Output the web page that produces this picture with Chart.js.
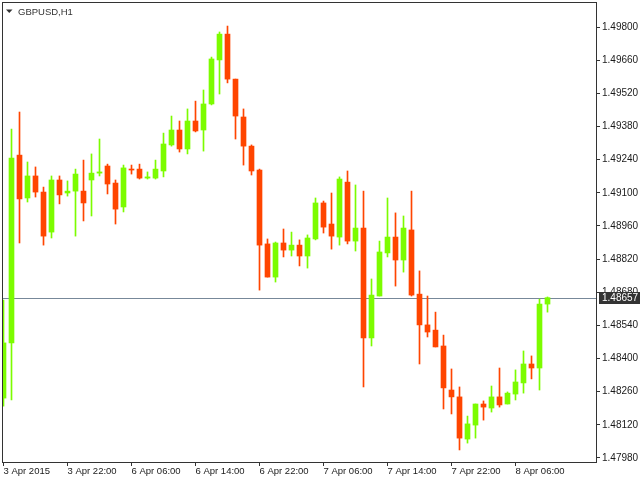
<!DOCTYPE html>
<html>
<head>
<meta charset="utf-8">
<title>GBPUSD,H1</title>
<script src="https://cdn.jsdelivr.net/npm/chart.js@4.4.1/dist/chart.umd.min.js"></script>
<style>
  html, body { margin: 0; padding: 0; background: #fff; }
  #wrap { width: 640px; height: 480px; }
</style>
</head>
<body>
<div id="wrap"><canvas id="priceChart" width="640" height="480"></canvas></div>
<script>
//Candle data, GBPUSD H1 (one entry per hour bar)
const open = [
  1.48233, 1.48466, 1.49259, 1.49078, 1.49171, 1.49103, 1.48934, 1.49154, 1.49099, 1.49107,
  1.49107, 1.49154, 1.49183, 1.49213, 1.49141, 1.49040, 1.49200, 1.49200, 1.49162, 1.49162,
  1.49192, 1.49302, 1.49365, 1.49285, 1.49403, 1.49365, 1.49475, 1.49661, 1.49770, 1.49580,
  1.49420, 1.49297, 1.49196, 1.48884, 1.48744, 1.48888, 1.48858, 1.48879, 1.48833, 1.48905,
  1.49057, 1.48968, 1.48913, 1.49145, 1.48896, 1.48951, 1.48487, 1.48664, 1.48846, 1.48913,
  1.48816, 1.48943, 1.48672, 1.48542, 1.48520, 1.48453, 1.48267, 1.48238, 1.48060, 1.48119,
  1.48208, 1.48191, 1.48238, 1.48208, 1.48250, 1.48297, 1.48377, 1.48360, 1.48630
];
const high = [
  1.48647, 1.49369, 1.49441, 1.49230, 1.49209, 1.49124, 1.49171, 1.49171, 1.49150, 1.49200,
  1.49238, 1.49264, 1.49327, 1.49221, 1.49154, 1.49217, 1.49217, 1.49221, 1.49188, 1.49238,
  1.49352, 1.49424, 1.49403, 1.49454, 1.49487, 1.49534, 1.49673, 1.49779, 1.49804, 1.49580,
  1.49454, 1.49302, 1.49200, 1.48905, 1.48892, 1.48947, 1.48934, 1.48901, 1.48922, 1.49078,
  1.49065, 1.49099, 1.49167, 1.49192, 1.49133, 1.49107, 1.48736, 1.48896, 1.49078, 1.49015,
  1.49002, 1.49107, 1.48770, 1.48664, 1.48596, 1.48499, 1.48356, 1.48280, 1.48157, 1.48208,
  1.48221, 1.48284, 1.48360, 1.48259, 1.48352, 1.48432, 1.48411, 1.48651, 1.48660
];
const low = [
  1.48199, 1.48225, 1.48888, 1.49061, 1.49082, 1.48879, 1.48909, 1.49053, 1.49086, 1.48917,
  1.48981, 1.49002, 1.49171, 1.49095, 1.48968, 1.49019, 1.49179, 1.49158, 1.49158, 1.49158,
  1.49167, 1.49297, 1.49272, 1.49264, 1.49357, 1.49276, 1.49471, 1.49517, 1.49564, 1.49327,
  1.49217, 1.49175, 1.48689, 1.48744, 1.48723, 1.48829, 1.48833, 1.48791, 1.48782, 1.48901,
  1.48930, 1.48862, 1.48879, 1.48884, 1.48854, 1.48280, 1.48453, 1.48664, 1.48829, 1.48706,
  1.48765, 1.48664, 1.48377, 1.48491, 1.48449, 1.48187, 1.48166, 1.48014, 1.48043, 1.48064,
  1.48140, 1.48174, 1.48195, 1.48208, 1.48225, 1.48254, 1.48314, 1.48267, 1.48596
];
const close = [
  1.48466, 1.49247, 1.49074, 1.49171, 1.49103, 1.48917, 1.49154, 1.49091, 1.49107, 1.49179,
  1.49057, 1.49183, 1.49188, 1.49137, 1.49031, 1.49205, 1.49196, 1.49162, 1.49167, 1.49200,
  1.49306, 1.49365, 1.49285, 1.49403, 1.49361, 1.49475, 1.49665, 1.49770, 1.49580, 1.49424,
  1.49297, 1.49192, 1.48879, 1.48744, 1.48888, 1.48858, 1.48879, 1.48833, 1.48909, 1.49057,
  1.48955, 1.48917, 1.49158, 1.48896, 1.48951, 1.48487, 1.48668, 1.48850, 1.48913, 1.48816,
  1.48951, 1.48668, 1.48542, 1.48512, 1.48449, 1.48276, 1.48238, 1.48064, 1.48124, 1.48208,
  1.48195, 1.48238, 1.48204, 1.48254, 1.48301, 1.48377, 1.48360, 1.48630, 1.48657
];

//Time axis labels (bar index -> label)
const xTickPos = [0, 8, 16, 24, 32, 40, 48, 56, 64];
const xTickLabels = ['3 Apr 2015', '3 Apr 22:00', '6 Apr 06:00', '6 Apr 14:00', '6 Apr 22:00',
  '7 Apr 06:00', '7 Apr 14:00', '7 Apr 22:00', '8 Apr 06:00'];

//Price axis labels
const yTickValues = [1.47980, 1.48120, 1.48260, 1.48400, 1.48540, 1.48680, 1.48820,
  1.48960, 1.49100, 1.49240, 1.49380, 1.49520, 1.49660, 1.49800];

const symbolLabel = 'GBPUSD,H1';
const lastPrice = close[close.length - 1];

const BULL = '#7CFC00';
const BEAR = '#FF4500';
const FRAME = '#333333';

function candleColor(ctx) {
  const i = ctx.dataIndex;
  return close[i] >= open[i] ? BULL : BEAR;
}

//Wicks = low..high, bodies = open..close
const wickData = open.map((o, i) => ({ x: i, y: [low[i], high[i]] }));
const bodyData = open.map((o, i) => ({ x: i, y: [Math.min(o, close[i]), Math.max(o, close[i])] }));

//Frame, bid line, symbol caption and price tag
const chartDecor = {
  id: 'chartDecor',
  beforeDatasetsDraw(chart) {
    const { ctx, chartArea, scales } = chart;
    const y = Math.round(scales.y.getPixelForValue(lastPrice)) + 0.5;
    ctx.save();
    ctx.strokeStyle = '#778899';
    ctx.lineWidth = 1;
    ctx.beginPath();
    ctx.moveTo(chartArea.left, y);
    ctx.lineTo(chartArea.right, y);
    ctx.stroke();
    ctx.restore();
  },
  afterDraw(chart) {
    const { ctx, chartArea, scales } = chart;
    ctx.save();

    //frame
    ctx.strokeStyle = FRAME;
    ctx.lineWidth = 1;
    ctx.strokeRect(chartArea.left + 0.5, chartArea.top + 0.5,
      chartArea.right - chartArea.left, chartArea.bottom - chartArea.top);

    //caption with small triangle
    ctx.fillStyle = '#333';
    ctx.beginPath();
    ctx.moveTo(6, 9.5);
    ctx.lineTo(12.5, 9.5);
    ctx.lineTo(9.25, 13);
    ctx.closePath();
    ctx.fill();
    ctx.font = '9.5px "Liberation Sans"';
    ctx.textBaseline = 'alphabetic';
    ctx.textAlign = 'left';
    ctx.fillText(symbolLabel, 18, 14.5);

    //price tag on the right axis
    const y = Math.round(scales.y.getPixelForValue(lastPrice));
    ctx.fillStyle = '#333';
    ctx.fillRect(chartArea.right + 3, y - 6, 640 - chartArea.right - 3, 12);
    ctx.fillStyle = '#fff';
    ctx.font = '10px "Liberation Sans"';
    ctx.textBaseline = 'middle';
    ctx.fillText(lastPrice.toFixed(5), chartArea.right + 6, y + 0.5);

    ctx.restore();
  }
};

function createChart() {
  const canvasElement = document.getElementById('priceChart');
  const chartContext = canvasElement.getContext('2d');

  /* global Chart */
  const chart = new Chart(chartContext, {
    type: 'bar',
    data: {
      datasets: [
        {
          label: 'wick',
          data: wickData,
          backgroundColor: candleColor,
          barThickness: 1,
          grouped: false,
          borderWidth: 0,
          order: 2
        },
        {
          label: 'body',
          data: bodyData,
          backgroundColor: candleColor,
          barThickness: 5,
          minBarLength: 1,
          grouped: false,
          borderWidth: 0,
          order: 1
        }
      ]
    },
    options: {
      responsive: false,
      animation: false,
      devicePixelRatio: 1,
      layout: {
        autoPadding: false,
        padding: { left: 2, top: 2, right: 0, bottom: 0 }
      },
      plugins: {
        legend: { display: false },
        tooltip: { enabled: false }
      },
      scales: {
        x: {
          type: 'linear',
          offset: false,
          min: -0.1875,
          max: 74.0625,
          afterBuildTicks: (scale) => {
            scale.ticks = xTickPos.map(v => ({ value: v }));
          },
          afterFit: (scale) => {
            scale.height = 18;
            scale.paddingLeft = 0;
            scale.paddingRight = 0;
          },
          grid: {
            display: true,
            offset: false,
            drawOnChartArea: false,
            drawTicks: true,
            tickLength: 4,
            color: FRAME,
            tickColor: FRAME
          },
          border: { display: false },
          ticks: {
            autoSkip: false,
            maxRotation: 0,
            minRotation: 0,
            align: 'start',
            padding: 0,
            color: '#1a1a1a',
            font: { family: 'Liberation Sans', size: 9.5 },
            callback: (value, index) => xTickLabels[index]
          }
        },
        y: {
          position: 'right',
          min: 1.479631,
          max: 1.499056,
          afterBuildTicks: (scale) => {
            scale.ticks = yTickValues.map(v => ({ value: v }));
          },
          afterFit: (scale) => {
            scale.width = 44;
            scale.paddingTop = 0;
            scale.paddingBottom = 0;
          },
          grid: {
            display: true,
            drawOnChartArea: false,
            drawTicks: true,
            tickLength: 4,
            color: FRAME,
            tickColor: FRAME
          },
          border: { display: false },
          ticks: {
            padding: 2,
            color: '#1a1a1a',
            font: { family: 'Liberation Sans', size: 10 },
            callback: (value) => Number(value).toFixed(5)
          }
        }
      }
    },
    plugins: [chartDecor]
  });

  return chart;
}

createChart();
</script>
</body>
</html>
